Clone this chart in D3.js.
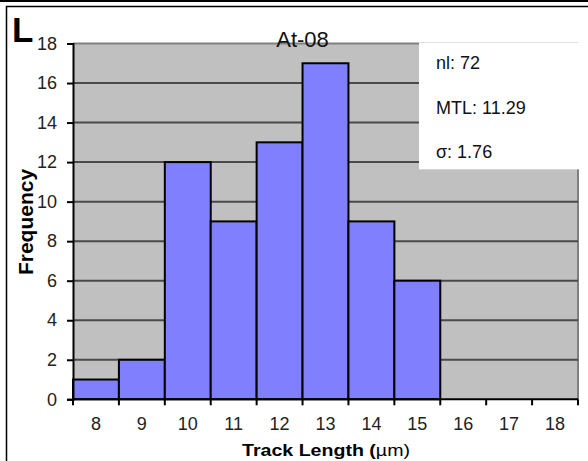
<!DOCTYPE html>
<html>
<head>
<meta charset="utf-8">
<script src="https://cdn.jsdelivr.net/npm/d3@7"></script>
<style>
  html, body { margin: 0; padding: 0; background: #fff; }
  svg { display: block; }
  text { font-family: Arial, "Liberation Sans", sans-serif; }
</style>
</head>
<body>
<svg id="chart" width="588" height="461"></svg>
<script>
// Track length histogram, sample At-08
const bins = ["8", "9", "10", "11", "12", "13", "14", "15", "16", "17", "18"];
const counts = [1, 2, 12, 9, 13, 17, 9, 6, 0, 0, 0];
const yTicks = [0, 2, 4, 6, 8, 10, 12, 14, 16, 18];
const stats = ["nl: 72", "MTL: 11.29", "σ: 1.76"];

const svg = d3.select("#chart");
const W = 588, H = 461;
const plot = { left: 73, right: 578, top: 43.5, bottom: 399.3 };

const x = d3.scaleBand().domain(bins).range([plot.left, plot.right]).padding(0);
const y = d3.scaleLinear().domain([0, 18]).range([plot.bottom, plot.top]);

// outer frame
svg.append("line").attr("x1", 0).attr("x2", W).attr("y1", 1).attr("y2", 1)
  .attr("stroke", "#000").attr("stroke-width", 2);
svg.append("rect").attr("x", 6.5).attr("y", 6.5).attr("width", W + 20).attr("height", H + 20)
  .attr("fill", "none").attr("stroke", "#000").attr("stroke-width", 1.5);

// plot area
svg.append("rect")
  .attr("x", plot.left).attr("y", plot.top)
  .attr("width", plot.right - plot.left).attr("height", plot.bottom - plot.top)
  .attr("fill", "#c0c0c0").attr("stroke", "none");
svg.append("line").attr("x1", plot.left).attr("x2", plot.right)
  .attr("y1", plot.top).attr("y2", plot.top).attr("stroke", "#808080").attr("stroke-width", 2);
svg.append("line").attr("x1", plot.right).attr("x2", plot.right)
  .attr("y1", plot.top).attr("y2", plot.bottom).attr("stroke", "#808080").attr("stroke-width", 2);

// gridlines
svg.append("g").selectAll("line")
  .data(yTicks.filter(d => d > 0 && d < 18))
  .join("line")
  .attr("x1", plot.left).attr("x2", plot.right)
  .attr("y1", d => y(d)).attr("y2", d => y(d))
  .attr("stroke", "#4a4a4a").attr("stroke-width", 2);

// bars
svg.append("g").selectAll("rect")
  .data(bins.map((b, i) => ({ b, v: counts[i] })).filter(d => d.v > 0))
  .join("rect")
  .attr("x", d => x(d.b))
  .attr("width", x.bandwidth())
  .attr("y", d => y(d.v))
  .attr("height", d => y(0) - y(d.v))
  .attr("fill", "#8080ff")
  .attr("stroke", "#000")
  .attr("stroke-width", 2);

// y axis
const yAxis = d3.axisLeft(y).tickValues(yTicks).tickSize(6).tickPadding(10);
const gy = svg.append("g").attr("transform", `translate(${plot.left},0)`).call(yAxis);
gy.select(".domain").attr("stroke", "#000").attr("stroke-width", 2);
gy.selectAll(".tick line").attr("stroke", "#000").attr("stroke-width", 2);
gy.selectAll(".tick text").attr("font-size", 18).attr("fill", "#222")
  .style("font-family", "Arial, 'Liberation Sans', sans-serif");

// x axis: ticks at bin edges, labels in bin centres
const edges = d3.range(bins.length + 1).map(i => plot.left + i * x.bandwidth());
const gx = svg.append("g");
gx.append("line").attr("x1", plot.left).attr("x2", plot.right)
  .attr("y1", plot.bottom).attr("y2", plot.bottom)
  .attr("stroke", "#000").attr("stroke-width", 2);
gx.selectAll("line.tk").data(edges).join("line").attr("class", "tk")
  .attr("x1", d => d).attr("x2", d => d)
  .attr("y1", plot.bottom).attr("y2", plot.bottom + 6)
  .attr("stroke", "#000").attr("stroke-width", 2);
gx.selectAll("text").data(bins).join("text")
  .attr("x", d => x(d) + x.bandwidth() / 2)
  .attr("y", 430)
  .attr("text-anchor", "middle")
  .attr("font-size", 18).attr("fill", "#222")
  .text(d => d);

// stats box
svg.append("rect").attr("x", 419).attr("y", plot.top - 1).attr("width", W - 419 + 2)
  .attr("height", 169.3 - plot.top + 1).attr("fill", "#fff");
svg.append("g").selectAll("text").data(stats).join("text")
  .attr("x", 436)
  .attr("y", (d, i) => 69 + i * 44.7)
  .attr("font-size", 18).attr("fill", "#111")
  .text(d => d);

// titles
svg.append("text").attr("x", 302.5).attr("y", 47).attr("text-anchor", "middle")
  .attr("font-size", 22).attr("fill", "#111").text("At-08");

svg.append("text").attr("x", 12).attr("y", 42)
  .attr("font-size", 35).attr("font-weight", "bold").attr("fill", "#000").text("L");

svg.append("text")
  .attr("transform", "translate(33.3,222) rotate(-90)")
  .attr("text-anchor", "middle")
  .attr("font-size", 21).attr("font-weight", "bold").attr("fill", "#000")
  .text("Frequency");

const xt = svg.append("text")
  .attr("x", 326).attr("y", 455.7)
  .attr("text-anchor", "middle")
  .attr("font-size", 17).attr("fill", "#000")
  .attr("textLength", 168).attr("lengthAdjust", "spacingAndGlyphs");
xt.append("tspan").attr("font-weight", "bold").text("Track Length (");
xt.append("tspan").text("µm)");
</script>
</body>
</html>
